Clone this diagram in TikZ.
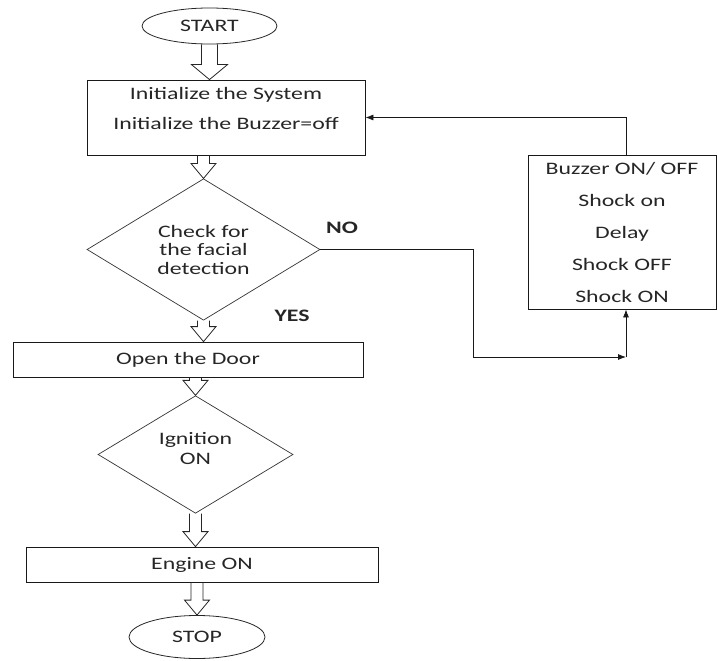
\documentclass[tikz,border=0pt]{standalone}
\usepackage{fontspec}
\setmainfont{Carlito}[FakeStretch=1.36]
\usetikzlibrary{shapes.geometric,calc,arrows.meta}
\tikzset{
  every node/.style={text=black!85},
  procbox/.style={draw=black!90, line width=0.8pt, rectangle, inner sep=0pt, align=center},
  decision/.style={draw=black!80, line width=0.7pt, diamond, inner sep=0pt, align=center},
  terminal/.style={draw=black!85, line width=0.8pt, ellipse, inner sep=0pt, align=center},
  lbl/.style={font=\fontsize{17.5}{20}\selectfont\bfseries, inner sep=0pt},
  conn/.style={draw=black!90, line width=0.8pt},
  tip/.style={-{Latex[length=8pt,width=6pt]}},
  harrow/.style={draw=black!85, line width=0.8pt, line join=miter}
}
\newcommand\hollowarrow[5]{%
  \path[harrow] let \p1=(#1.south), \p2=(#2.north), \p3=(#3) in
    (\x3-#4,\y1) -- (\x3-#4,\y2+15pt) -- (\x3-#5,\y2+15pt) -- (\x3,\y2)
    -- (\x3+#5,\y2+15pt) -- (\x3+#4,\y2+15pt) -- (\x3+#4,\y1);}
\begin{document}
\begin{tikzpicture}[x=1pt,y=-1pt, font=\fontsize{17.5}{20}\selectfont]
\useasboundingbox (0,0) rectangle (718,661);

\node[terminal, minimum width=135pt, minimum height=36pt] (start) at (209.5,26) {START};
\node[procbox, minimum width=278pt, minimum height=75pt, text depth=19pt] (init) at (226,117.5)
  {Initialize the System\\[10pt]Initialize the Buzzer=off};
\node[decision, minimum width=233pt, minimum height=115pt, font=\fontsize{17.5}{18.5}\selectfont] (check) at (203.5,249.5)
  {Check for\\the facial\\detection};
\node[procbox, minimum width=350pt, minimum height=35pt] (door) at (188,359.5) {Open the Door};
\node[decision, minimum width=195pt, minimum height=115pt, text depth=12pt] (ign) at (195.5,454.5)
  {Ignition\\ON};
\node[procbox, minimum width=352pt, minimum height=35pt] (engine) at (202,564.5) {Engine ON};
\node[terminal, minimum width=136pt, minimum height=43pt] (stop) at (197,637) {STOP};

\node[procbox, minimum width=188pt, minimum height=154pt, font=\fontsize{17.5}{32}\selectfont] (fb) at (622,232)
  {Buzzer ON/ OFF\\Shock on\\Delay\\Shock OFF\\Shock ON};

\node[lbl] (no) at (342,228) {NO};
\node[lbl] (yes) at (292,316) {YES};

% hollow flow arrows
\hollowarrow{start}{init}{start}{8pt}{18pt}
\hollowarrow{init}{check}{check}{6pt}{12.5pt}
\hollowarrow{check}{door}{check}{6pt}{12.5pt}
\hollowarrow{door}{ign}{ign}{6pt}{12.5pt}
\hollowarrow{ign}{engine}{ign}{6pt}{12.5pt}
\hollowarrow{engine}{stop}{stop}{6pt}{12.5pt}

% NO branch and feedback loop
\coordinate (c0) at (473,357);
\coordinate (c1) at (626,357);
\draw[conn, tip] (check.east) -| (c0) -- (c1);
\draw[conn, tip] (c1) -- (c1 |- fb.south);
\draw[conn, tip] (fb.north -| c1) |- (init.east);
\end{tikzpicture}
\end{document}
